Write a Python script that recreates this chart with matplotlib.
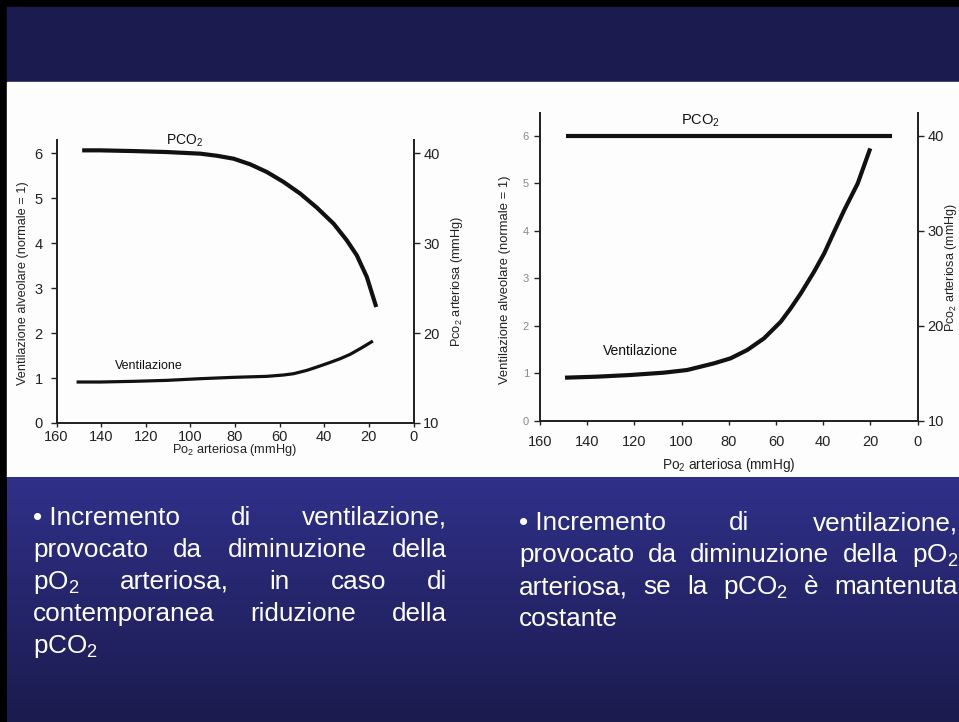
import numpy as np
import matplotlib
matplotlib.use('Agg')
import matplotlib.pyplot as plt
from matplotlib.patches import Rectangle

plt.rcParams['font.family'] = ['Liberation Sans', 'DejaVu Sans']
plt.rcParams['mathtext.fontset'] = 'custom'
plt.rcParams['mathtext.rm'] = 'Liberation Sans'
plt.rcParams['mathtext.it'] = 'Liberation Sans:italic'
plt.rcParams['mathtext.bf'] = 'Liberation Sans:bold'
plt.rcParams['mathtext.default'] = 'rm'

# ---------------- data ----------------
x_ticks = [160, 140, 120, 100, 80, 60, 40, 20, 0]
vent_ticks = [0, 1, 2, 3, 4, 5, 6]
pco2_ticks = [10, 20, 30, 40]

# left chart: PCO2 falls as PO2 decreases
left_pco2_po2 = [148.5, 140.3, 125.4, 110.4, 95.5, 88.1, 80.6, 73.1, 65.7, 58.2, 50.7, 43.3, 35.8, 29.9, 25.4, 20.9, 16.7]
left_pco2 = [40.30, 40.30, 40.22, 40.11, 39.93, 39.70, 39.37, 38.74, 37.89, 36.78, 35.48, 33.93, 32.15, 30.30, 28.63, 26.22, 22.89]
left_vent_po2 = [151.0, 140.3, 125.4, 110.4, 95.5, 80.6, 65.7, 58.2, 53.7, 47.8, 43.3, 38.1, 32.8, 28.4, 23.9, 20.9, 18.2]
left_vent = [0.911, 0.911, 0.926, 0.948, 0.985, 1.015, 1.037, 1.067, 1.096, 1.170, 1.244, 1.333, 1.430, 1.526, 1.652, 1.741, 1.822]

# right chart: PCO2 kept constant
right_pco2_po2 = [149, 11]
right_pco2 = [40, 40]
right_vent_po2 = [149.4, 135.9, 121.8, 107.6, 97.7, 86.3, 79.3, 72.2, 65.1, 58.0, 53.8, 49.5, 43.9, 39.6, 35.4, 31.1, 25.4, 20.1]
right_vent = [0.911, 0.932, 0.967, 1.016, 1.072, 1.212, 1.317, 1.493, 1.738, 2.088, 2.369, 2.684, 3.139, 3.525, 3.980, 4.436, 4.997, 5.732]

left_lines = [
    "\u2022\u00a0Incremento di ventilazione,",
    "provocato da diminuzione della",
    "pO$_2$ arteriosa, in caso di",
    "contemporanea riduzione della",
    "pCO$_2$",
]
right_lines = [
    "\u2022\u00a0Incremento di ventilazione,",
    "provocato da diminuzione della pO$_2$",
    "arteriosa, se la pCO$_2$ \u00e8 mantenuta",
    "costante",
]

# ---------------- figure / background ----------------
W, H = 959, 722
fig = plt.figure(figsize=(W / 100, H / 100), dpi=100)
bg = fig.add_axes([0, 0, 1, 1])
bg.axis('off')
bg.add_patch(Rectangle((0, 0), W, H, color='black', zorder=0))
bg.add_patch(Rectangle((7, 7), W - 7, 75, color='#1b1b4f', zorder=1))
bg.add_patch(Rectangle((7, 82), W - 7, 395, color='#fdfdfd', zorder=1))
grad = np.linspace(0, 1, 256)[:, None, None]
c_top = np.array([48, 48, 138]) / 255.0
c_bot = np.array([27, 27, 78]) / 255.0
img = c_top[None, None, :] * (1 - grad) + c_bot[None, None, :] * grad
img = np.repeat(img, 2, axis=1)
bg.imshow(img, extent=(7, W, H, 477), aspect='auto', interpolation='bilinear', zorder=1)
bg.set_xlim(0, W)
bg.set_ylim(H, 0)


def px_rect(x0, x1, ytop, ybot):
    return [x0 / W, (H - ybot) / H, (x1 - x0) / W, (ybot - ytop) / H]


def make_chart(rect, ytop, xlab_y, ylab_lx, ylab_ly, ylab_rx, ylab_ry, xpad,
               left_tick_color, left_tick_fs, left_pad, lab_fs, rlab_fs, xlab_fs):
    ax = fig.add_axes(rect)
    ax.set_facecolor('none')
    ax.set_xlim(160, 0)
    ax.set_ylim(0, ytop)
    ax2 = ax.twinx()
    ax2.set_ylim(10, 10 + 5 * ytop)
    for a in (ax, ax2):
        a.spines['top'].set_visible(False)
        for s in ('left', 'right', 'bottom'):
            a.spines[s].set_linewidth(1.3)
            a.spines[s].set_color('#222222')
    ax.set_xticks(x_ticks)
    ax.set_xticklabels([str(v) for v in x_ticks])
    ax.set_yticks(vent_ticks)
    ax.set_yticklabels([str(v) for v in vent_ticks])
    ax2.set_yticks(pco2_ticks)
    ax2.set_yticklabels([str(v) for v in pco2_ticks])
    ax.tick_params(axis='x', direction='out', length=3, width=1, pad=xpad, labelsize=10.5, colors='#222222')
    ax.tick_params(axis='y', direction='out', length=4, width=1, pad=left_pad, labelsize=left_tick_fs,
                   labelcolor=left_tick_color, color='#222222')
    ax2.tick_params(axis='y', direction='out', length=4, width=1, pad=3, labelsize=10.5, colors='#222222')
    ax.set_xlabel('Po$_2$ arteriosa (mmHg)', fontsize=xlab_fs, color='#222222')
    ax.xaxis.set_label_coords(0.5, xlab_y)
    ax.set_ylabel('Ventilazione alveolare (normale = 1)', fontsize=lab_fs, color='#222222')
    ax.yaxis.set_label_coords(ylab_lx, ylab_ly)
    ax2.set_ylabel('Pco$_2$ arteriosa (mmHg)', fontsize=rlab_fs, color='#222222')
    ax2.yaxis.set_label_coords(ylab_rx, ylab_ry)
    return ax, ax2


# left chart
axL, axL2 = make_chart(px_rect(56.5, 413.5, 140, 423), 6.29, -0.067, -0.077, 0.495, 1.099, 0.50, 2,
                       '#222222', 10.5, 6, 9.2, 9.2, 9.2)
axL2.plot(left_pco2_po2, left_pco2, color='#111111', lw=3.0, solid_capstyle='butt')
axL.plot(left_vent_po2, left_vent, color='#111111', lw=2.3, solid_capstyle='butt')
axL.text(102.5, 6.27, 'PCO$_2$', fontsize=10, ha='center', va='center', color='#111111')
axL.text(118.7, 1.27, 'Ventilazione', fontsize=9, ha='center', va='center', color='#111111')

# right chart
axR, axR2 = make_chart(px_rect(540, 917.7, 113.3, 421), 6.47, -0.114, -0.077, 0.458, 1.066, 0.497, 7,
                       '#888888', 8, 4, 9.4, 9.0, 9.8)
axR2.plot(right_pco2_po2, right_pco2, color='#111111', lw=3.0, solid_capstyle='butt')
axR.plot(right_vent_po2, right_vent, color='#111111', lw=3.0, solid_capstyle='butt')
axR.text(92, 6.31, 'PCO$_2$', fontsize=10.5, ha='center', va='center', color='#111111')
axR.text(117.5, 1.48, 'Ventilazione', fontsize=10, ha='center', va='center', color='#111111')

# ---------------- justified slide text ----------------
renderer = fig.canvas.get_renderer()
FS = 18.8


def justify(lines, x0, x1, y0, dy):
    for i, line in enumerate(lines):
        y = y0 + i * dy
        words = line.split(' ')
        if i == len(lines) - 1 or len(words) == 1:
            bg.text(x0, y, line, fontsize=FS, color='white', va='baseline', ha='left', zorder=5)
            continue
        texts = [bg.text(0, y, w, fontsize=FS, color='white', va='baseline', ha='left', zorder=5) for w in words]
        widths = [t.get_window_extent(renderer).width for t in texts]
        gap = (x1 - x0 - sum(widths)) / (len(words) - 1)
        x = x0
        for t, w in zip(texts, widths):
            t.set_x(x)
            x += w + gap


justify(left_lines, 33, 447, 525, 32)
justify(right_lines, 519, 958, 530, 32)

fig.savefig('out.png', dpi=100, facecolor='black')
